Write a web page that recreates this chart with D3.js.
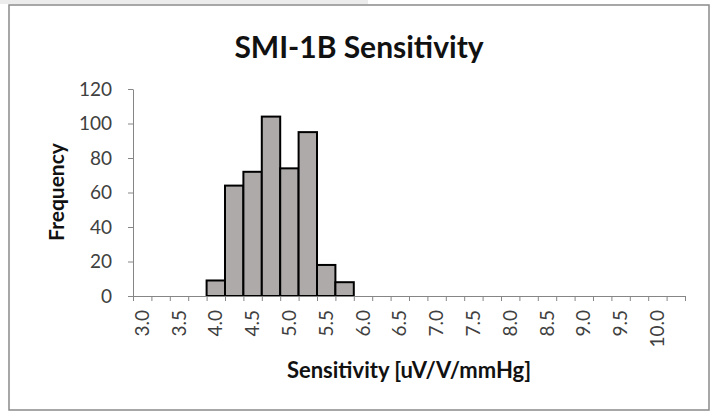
<!DOCTYPE html>
<html>
<head>
<meta charset="utf-8">
<script src="https://cdn.jsdelivr.net/npm/d3@7"></script>
<style>
  body { margin: 0; background: #fff; }
  svg { display: block; }
</style>
</head>
<body>
<div id="chart"></div>
<script>
// bins of 0.25, only every other one gets a label
const categories = ["3.00", "3.25", "3.50", "3.75", "4.00", "4.25", "4.50", "4.75", "5.00", "5.25",
    "5.50", "5.75", "6.00", "6.25", "6.50", "6.75", "7.00", "7.25", "7.50", "7.75",
    "8.00", "8.25", "8.50", "8.75", "9.00", "9.25", "9.50", "9.75", "10.00", "10.25"];
const frequency = [0, 0, 0, 0, 9, 64, 72, 104, 74, 95, 18, 8, 0, 0, 0,
    0, 0, 0, 0, 0, 0, 0, 0, 0, 0, 0, 0, 0, 0, 0];
const xTickLabels = ["3.0", "3.5", "4.0", "4.5", "5.0", "5.5", "6.0", "6.5", "7.0", "7.5",
    "8.0", "8.5", "9.0", "9.5", "10.0"];
const yTicks = [0, 20, 40, 60, 80, 100, 120];

const width = 713, height = 412;
const margin = { top: 89, right: 28, bottom: 116, left: 133 };
const font = "Lato, 'Open Sans', sans-serif";
const axisColor = "#868686";

const svg = d3.select("#chart").append("svg")
    .attr("width", width)
    .attr("height", height);

// bit of the window behind the chart
svg.append("rect")
    .attr("x", 0).attr("y", 0)
    .attr("width", 368).attr("height", 4)
    .attr("fill", "#ececec");

// chart frame
svg.append("rect")
    .attr("x", 9).attr("y", 5)
    .attr("width", 700).attr("height", 405)
    .attr("fill", "#fff")
    .attr("stroke", "#8a8a8a")
    .attr("stroke-width", 1.5);

const x = d3.scaleBand()
    .domain(categories)
    .range([margin.left, width - margin.right])
    .padding(0);

const y = d3.scaleLinear()
    .domain([0, 120])
    .range([height - margin.bottom, margin.top]);

// bars
svg.append("g")
    .selectAll("rect")
    .data(categories.map((c, i) => ({ c, v: frequency[i] })).filter(d => d.v > 0))
    .join("rect")
    .attr("x", d => x(d.c))
    .attr("y", d => y(d.v))
    .attr("width", x.bandwidth())
    .attr("height", d => y(0) - y(d.v))
    .attr("fill", "#aeaaaa")
    .attr("stroke", "#000")
    .attr("stroke-width", 2);

// y axis
const yAxis = svg.append("g")
    .attr("transform", "translate(" + margin.left + ",0)")
    .call(d3.axisLeft(y).tickValues(yTicks).tickSize(5).tickPadding(16).tickSizeOuter(0));
yAxis.select(".domain").attr("stroke", axisColor);
yAxis.selectAll(".tick line").attr("stroke", axisColor);
yAxis.selectAll(".tick text")
    .attr("fill", "#404040")
    .style("font-family", font)
    .style("font-size", "19px");

// x axis: tick marks sit between categories
const xEdge = d3.scaleLinear()
    .domain([0, categories.length])
    .range([margin.left, width - margin.right]);
const xAxis = svg.append("g")
    .attr("transform", "translate(0," + y(0) + ")")
    .call(d3.axisBottom(xEdge).ticks(categories.length).tickSize(5).tickSizeOuter(0).tickFormat(""));
xAxis.select(".domain").attr("stroke", axisColor);
xAxis.selectAll(".tick line").attr("stroke", axisColor);

svg.append("g")
    .selectAll("text")
    .data(xTickLabels)
    .join("text")
    .attr("transform", (d, i) => "translate(" + (x(categories[i * 2]) + x.bandwidth() / 2) + "," + (y(0) + 14) + ") rotate(-90)")
    .attr("text-anchor", "end")
    .attr("dy", "0.35em")
    .attr("fill", "#404040")
    .style("font-family", font)
    .style("font-size", "19px")
    .text(d => d);

// titles
svg.append("text")
    .attr("x", 359).attr("y", 58)
    .attr("text-anchor", "middle")
    .attr("fill", "#111")
    .style("font-family", font)
    .style("font-weight", "bold")
    .style("font-size", "30px")
    .text("SMI-1B Sensitivity");

svg.append("text")
    .attr("x", 409).attr("y", 378)
    .attr("text-anchor", "middle")
    .attr("fill", "#111")
    .style("font-family", font)
    .style("font-weight", "bold")
    .style("font-size", "22px")
    .text("Sensitivity [uV/V/mmHg]");

svg.append("text")
    .attr("transform", "translate(57,192) rotate(-90)")
    .attr("text-anchor", "middle")
    .attr("dy", "0.35em")
    .attr("fill", "#111")
    .style("font-family", font)
    .style("font-weight", "bold")
    .style("font-size", "21px")
    .text("Frequency");
</script>
</body>
</html>
